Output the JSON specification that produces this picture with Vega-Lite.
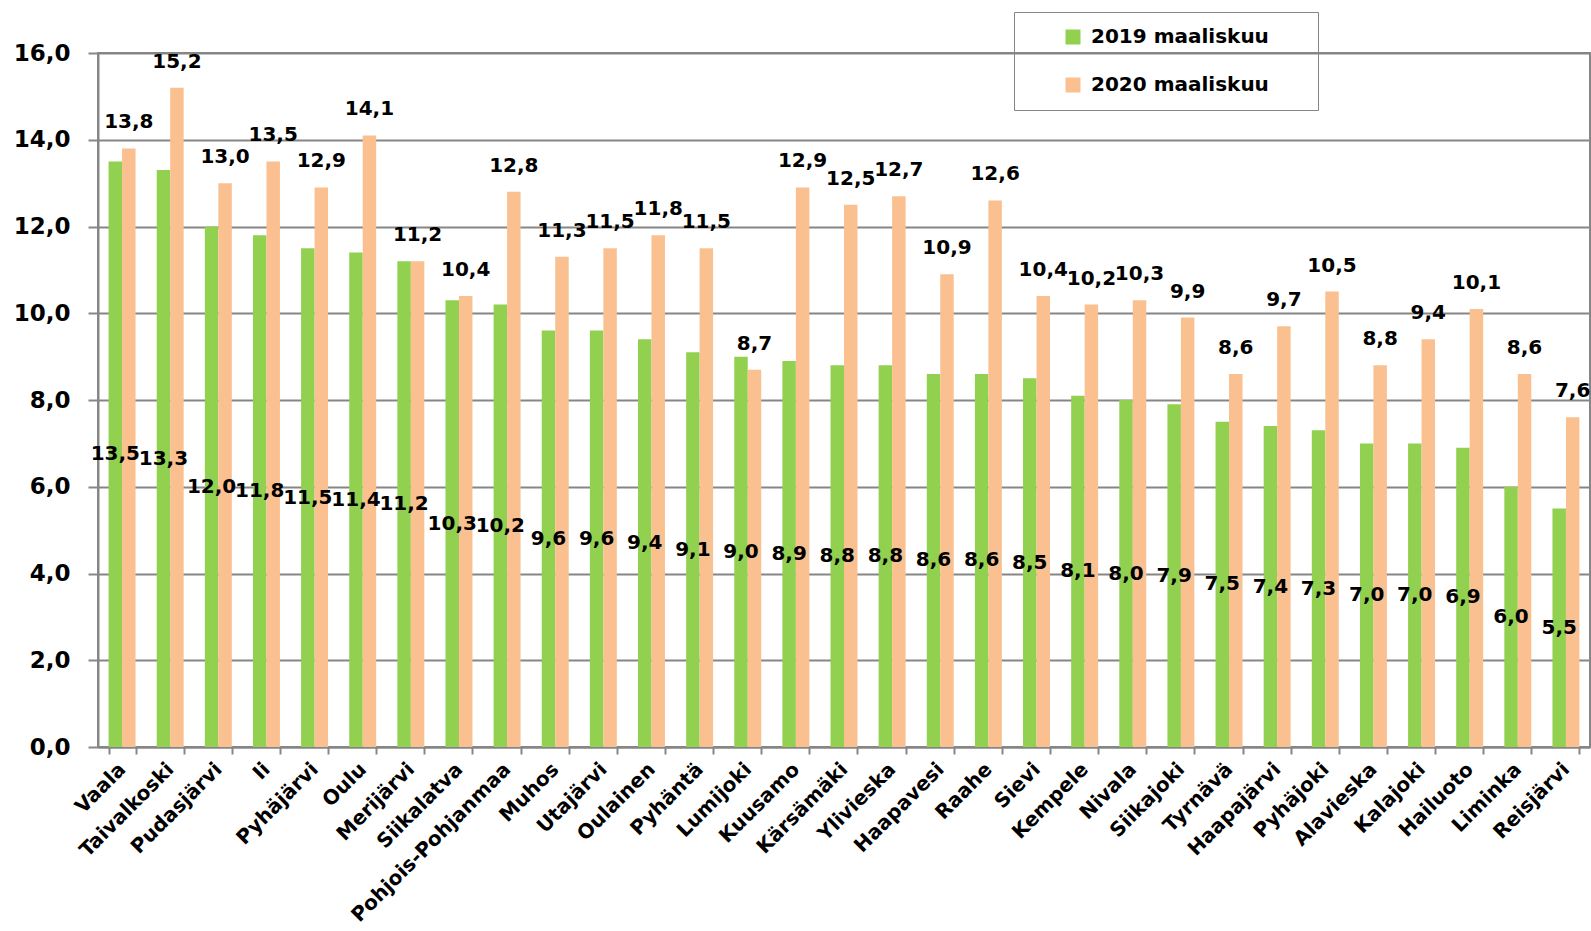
{
  "$schema": "https://vega.github.io/schema/vega-lite/v6.json",
  "width": 1492,
  "height": 694,
  "autosize": {"type": "none"},
  "padding": {"left": 98, "top": 53, "right": 1, "bottom": 184},
  "background": "white",
  "config": {
    "locale": {"number": {"decimal": ",", "thousands": "\u00a0", "grouping": [3], "currency": ["", " €"]}},
    "view": {"stroke": "#868686", "strokeWidth": 2},
    "font": "DejaVu Sans",
    "axis": {"labelFont": "DejaVu Sans", "labelFontWeight": "bold", "labelColor": "black", "titleColor": "black"}
  },
  "data": {
    "values": [
      {"kunta": "Vaala", "vuosi": "2019 maaliskuu", "arvo": 13.5},
      {"kunta": "Vaala", "vuosi": "2020 maaliskuu", "arvo": 13.8},
      {"kunta": "Taivalkoski", "vuosi": "2019 maaliskuu", "arvo": 13.3},
      {"kunta": "Taivalkoski", "vuosi": "2020 maaliskuu", "arvo": 15.2},
      {"kunta": "Pudasjärvi", "vuosi": "2019 maaliskuu", "arvo": 12.0},
      {"kunta": "Pudasjärvi", "vuosi": "2020 maaliskuu", "arvo": 13.0},
      {"kunta": "Ii", "vuosi": "2019 maaliskuu", "arvo": 11.8},
      {"kunta": "Ii", "vuosi": "2020 maaliskuu", "arvo": 13.5},
      {"kunta": "Pyhäjärvi", "vuosi": "2019 maaliskuu", "arvo": 11.5},
      {"kunta": "Pyhäjärvi", "vuosi": "2020 maaliskuu", "arvo": 12.9},
      {"kunta": "Oulu", "vuosi": "2019 maaliskuu", "arvo": 11.4},
      {"kunta": "Oulu", "vuosi": "2020 maaliskuu", "arvo": 14.1},
      {"kunta": "Merijärvi", "vuosi": "2019 maaliskuu", "arvo": 11.2},
      {"kunta": "Merijärvi", "vuosi": "2020 maaliskuu", "arvo": 11.2},
      {"kunta": "Siikalatva", "vuosi": "2019 maaliskuu", "arvo": 10.3},
      {"kunta": "Siikalatva", "vuosi": "2020 maaliskuu", "arvo": 10.4},
      {"kunta": "Pohjois-Pohjanmaa", "vuosi": "2019 maaliskuu", "arvo": 10.2},
      {"kunta": "Pohjois-Pohjanmaa", "vuosi": "2020 maaliskuu", "arvo": 12.8},
      {"kunta": "Muhos", "vuosi": "2019 maaliskuu", "arvo": 9.6},
      {"kunta": "Muhos", "vuosi": "2020 maaliskuu", "arvo": 11.3},
      {"kunta": "Utajärvi", "vuosi": "2019 maaliskuu", "arvo": 9.6},
      {"kunta": "Utajärvi", "vuosi": "2020 maaliskuu", "arvo": 11.5},
      {"kunta": "Oulainen", "vuosi": "2019 maaliskuu", "arvo": 9.4},
      {"kunta": "Oulainen", "vuosi": "2020 maaliskuu", "arvo": 11.8},
      {"kunta": "Pyhäntä", "vuosi": "2019 maaliskuu", "arvo": 9.1},
      {"kunta": "Pyhäntä", "vuosi": "2020 maaliskuu", "arvo": 11.5},
      {"kunta": "Lumijoki", "vuosi": "2019 maaliskuu", "arvo": 9.0},
      {"kunta": "Lumijoki", "vuosi": "2020 maaliskuu", "arvo": 8.7},
      {"kunta": "Kuusamo", "vuosi": "2019 maaliskuu", "arvo": 8.9},
      {"kunta": "Kuusamo", "vuosi": "2020 maaliskuu", "arvo": 12.9},
      {"kunta": "Kärsämäki", "vuosi": "2019 maaliskuu", "arvo": 8.8},
      {"kunta": "Kärsämäki", "vuosi": "2020 maaliskuu", "arvo": 12.5},
      {"kunta": "Ylivieska", "vuosi": "2019 maaliskuu", "arvo": 8.8},
      {"kunta": "Ylivieska", "vuosi": "2020 maaliskuu", "arvo": 12.7},
      {"kunta": "Haapavesi", "vuosi": "2019 maaliskuu", "arvo": 8.6},
      {"kunta": "Haapavesi", "vuosi": "2020 maaliskuu", "arvo": 10.9},
      {"kunta": "Raahe", "vuosi": "2019 maaliskuu", "arvo": 8.6},
      {"kunta": "Raahe", "vuosi": "2020 maaliskuu", "arvo": 12.6},
      {"kunta": "Sievi", "vuosi": "2019 maaliskuu", "arvo": 8.5},
      {"kunta": "Sievi", "vuosi": "2020 maaliskuu", "arvo": 10.4},
      {"kunta": "Kempele", "vuosi": "2019 maaliskuu", "arvo": 8.1},
      {"kunta": "Kempele", "vuosi": "2020 maaliskuu", "arvo": 10.2},
      {"kunta": "Nivala", "vuosi": "2019 maaliskuu", "arvo": 8.0},
      {"kunta": "Nivala", "vuosi": "2020 maaliskuu", "arvo": 10.3},
      {"kunta": "Siikajoki", "vuosi": "2019 maaliskuu", "arvo": 7.9},
      {"kunta": "Siikajoki", "vuosi": "2020 maaliskuu", "arvo": 9.9},
      {"kunta": "Tyrnävä", "vuosi": "2019 maaliskuu", "arvo": 7.5},
      {"kunta": "Tyrnävä", "vuosi": "2020 maaliskuu", "arvo": 8.6},
      {"kunta": "Haapajärvi", "vuosi": "2019 maaliskuu", "arvo": 7.4},
      {"kunta": "Haapajärvi", "vuosi": "2020 maaliskuu", "arvo": 9.7},
      {"kunta": "Pyhäjoki", "vuosi": "2019 maaliskuu", "arvo": 7.3},
      {"kunta": "Pyhäjoki", "vuosi": "2020 maaliskuu", "arvo": 10.5},
      {"kunta": "Alavieska", "vuosi": "2019 maaliskuu", "arvo": 7.0},
      {"kunta": "Alavieska", "vuosi": "2020 maaliskuu", "arvo": 8.8},
      {"kunta": "Kalajoki", "vuosi": "2019 maaliskuu", "arvo": 7.0},
      {"kunta": "Kalajoki", "vuosi": "2020 maaliskuu", "arvo": 9.4},
      {"kunta": "Hailuoto", "vuosi": "2019 maaliskuu", "arvo": 6.9},
      {"kunta": "Hailuoto", "vuosi": "2020 maaliskuu", "arvo": 10.1},
      {"kunta": "Liminka", "vuosi": "2019 maaliskuu", "arvo": 6.0},
      {"kunta": "Liminka", "vuosi": "2020 maaliskuu", "arvo": 8.6},
      {"kunta": "Reisjärvi", "vuosi": "2019 maaliskuu", "arvo": 5.5},
      {"kunta": "Reisjärvi", "vuosi": "2020 maaliskuu", "arvo": 7.6}
    ]
  },
  "encoding": {
    "x": {
      "field": "kunta",
      "type": "nominal",
      "sort": null,
      "scale": {"paddingInner": 0.44, "paddingOuter": 0.22},
      "axis": {
        "title": null,
        "labelAngle": -45,
        "labelAlign": "right",
        "labelBaseline": "middle",
        "labelFontSize": 20,
        "labelPadding": 12,
        "tickBand": "extent",
        "tickSize": 7,
        "tickWidth": 2,
        "tickColor": "#868686",
        "domainColor": "#868686",
        "domainWidth": 2,
        "grid": false,
        "labelLimit": 400
      }
    },
    "xOffset": {"field": "vuosi", "type": "nominal", "scale": {"paddingInner": 0, "paddingOuter": 0}}
  },
  "layer": [
    {
      "mark": {"type": "bar"},
      "encoding": {
        "y": {
          "field": "arvo",
          "type": "quantitative",
          "scale": {"domain": [0, 16], "nice": false},
          "axis": {
            "title": null,
            "values": [0, 2, 4, 6, 8, 10, 12, 14, 16],
            "format": ".1f",
            "labelFontSize": 23,
            "labelPadding": 18,
            "tickSize": 10,
            "tickWidth": 2,
            "tickColor": "#868686",
            "domainColor": "#868686",
            "domainWidth": 2,
            "gridColor": "#868686",
            "gridWidth": 2
          }
        },
        "color": {
          "field": "vuosi",
          "type": "nominal",
          "scale": {"domain": ["2019 maaliskuu", "2020 maaliskuu"], "range": ["#92D050", "#FAC090"]},
          "legend": {
            "title": " ",
            "titleOrient": "right",
            "titlePadding": 34,
            "titleFontSize": 2,
            "orient": "none",
            "legendX": 916,
            "legendY": -41,
            "direction": "vertical",
            "strokeColor": "#868686",
            "padding": 15,
            "symbolType": "square",
            "symbolSize": 225,
            "symbolStrokeWidth": 0,
            "symbolOffset": 34,
            "labelFont": "DejaVu Sans",
            "labelFontWeight": "bold",
            "labelFontSize": 20,
            "labelColor": "black",
            "labelOffset": 8,
            "labelLimit": 400,
            "rowPadding": 28
          }
        }
      }
    },
    {
      "transform": [{"filter": "datum.vuosi === '2020 maaliskuu'"}],
      "mark": {"type": "text", "font": "DejaVu Sans", "fontWeight": "bold", "fontSize": 20, "baseline": "alphabetic", "dy": -20, "color": "black"},
      "encoding": {
        "y": {"field": "arvo", "type": "quantitative", "scale": {"domain": [0, 16], "nice": false}, "axis": null},
        "text": {"field": "arvo", "type": "quantitative", "format": ".1f"}
      }
    },
    {
      "transform": [{"filter": "datum.vuosi === '2019 maaliskuu'"}],
      "mark": {"type": "text", "font": "DejaVu Sans", "fontWeight": "bold", "fontSize": 20, "baseline": "middle", "color": "black"},
      "encoding": {
        "y": {"field": "arvo", "type": "quantitative", "scale": {"domain": [0, 32], "nice": false}, "axis": null},
        "text": {"field": "arvo", "type": "quantitative", "format": ".1f"}
      }
    }
  ],
  "resolve": {"scale": {"y": "independent"}}
}
